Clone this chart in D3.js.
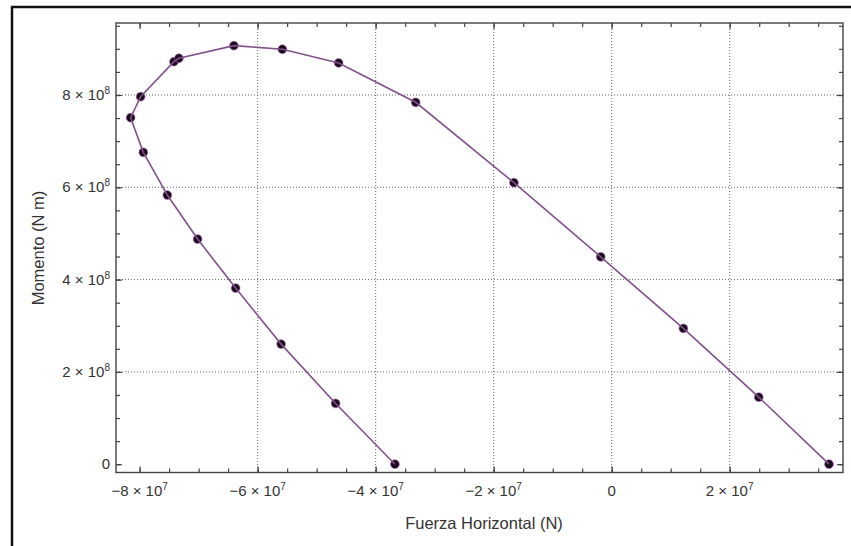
<!DOCTYPE html>
<html><head><meta charset="utf-8">
<script src="https://cdn.jsdelivr.net/npm/d3@7"></script>
<style>
html,body{margin:0;padding:0;background:#fff;}
text{font-family:"Liberation Sans",Arial,sans-serif;fill:#333;}
</style></head>
<body><svg id="c" width="851" height="546"></svg>
<script>
// Data (Fuerza Horizontal [N], Momento [N m])
const fuerza = [-36.73e6,-46.78e6,-56.02e6,-63.73e6,-70.17e6,-75.30e6,-79.37e6,-81.52e6,-79.83e6,-74.18e6,-73.34e6,-64.02e6,-55.81e6,-46.27e6,-33.22e6,-16.56e6,-1.86e6,12.15e6,24.92e6,36.83e6];
const momento = [0,131.6e6,260.2e6,381.6e6,487.8e6,583.2e6,675.8e6,750.8e6,796.3e6,872.2e6,879.6e6,906.9e6,899.1e6,869.4e6,784.2e6,609.9e6,449.4e6,294.2e6,145.3e6,0];
const xTicks = [-8e7,-6e7,-4e7,-2e7,0,2e7];
const xTickMant = ["\u22128","\u22126","\u22124","\u22122","0","2"];
const xTickExp = ["7","7","7","7","","7"];
const yTicks = [0,2e8,4e8,6e8,8e8];
const yTickMant = ["0","2","4","6","8"];
const yTickExp = ["","8","8","8","8"];
const xGrid = [-6e7,-4e7,-2e7,0,2e7];
const yGrid = [2e8,4e8,6e8,8e8];
const xLabel = "Fuerza Horizontal (N)";
const yLabel = "Momento (N m)";

const svg = d3.select("#c");
const L=116, R=843, T=23, B=472.5;
const x = d3.scaleLinear().domain([-8.4e7,3.92e7]).range([L,R]);
const y = d3.scaleLinear().domain([-1.8e7,9.56e8]).range([B,T]);

// outer frame
svg.append("path").attr("d","M12,546V7H851").attr("fill","none").attr("stroke","#111").attr("stroke-width",2.5);

// grid
const g = svg.append("g");
g.selectAll(".gx").data(xGrid).enter().append("line")
  .attr("x1",d=>x(d)).attr("x2",d=>x(d)).attr("y1",T).attr("y2",B)
  .attr("stroke","#666").attr("stroke-width",1).attr("stroke-dasharray","1,2");
g.selectAll(".gy").data(yGrid).enter().append("line")
  .attr("y1",d=>y(d)).attr("y2",d=>y(d)).attr("x1",L).attr("x2",R)
  .attr("stroke","#666").attr("stroke-width",1).attr("stroke-dasharray","1,2");

// axes with inward ticks
const minorX = d3.range(-8e7,3.92e7,5e6).filter(v=>v>=-8.4e7);
const minorY = d3.range(0,9.56e8,5e7);
function styleAxis(sel){sel.select(".domain").remove();sel.selectAll("line").attr("stroke","#444").attr("stroke-width",1.2);}
svg.append("g").attr("transform",`translate(0,${B})`).call(d3.axisBottom(x).tickValues(minorX).tickSize(-4).tickFormat("")).call(styleAxis);
svg.append("g").attr("transform",`translate(0,${T})`).call(d3.axisTop(x).tickValues(minorX).tickSize(-4).tickFormat("")).call(styleAxis);
svg.append("g").attr("transform",`translate(${L},0)`).call(d3.axisLeft(y).tickValues(minorY).tickSize(-4).tickFormat("")).call(styleAxis);
svg.append("g").attr("transform",`translate(${R},0)`).call(d3.axisRight(y).tickValues(minorY).tickSize(-4).tickFormat("")).call(styleAxis);
svg.append("g").attr("transform",`translate(0,${B})`).call(d3.axisBottom(x).tickValues(xTicks).tickSize(-6).tickFormat("")).call(styleAxis);
svg.append("g").attr("transform",`translate(0,${T})`).call(d3.axisTop(x).tickValues(xTicks).tickSize(-6).tickFormat("")).call(styleAxis);
svg.append("g").attr("transform",`translate(${L},0)`).call(d3.axisLeft(y).tickValues(yTicks).tickSize(-6).tickFormat("")).call(styleAxis);
svg.append("g").attr("transform",`translate(${R},0)`).call(d3.axisRight(y).tickValues(yTicks).tickSize(-6).tickFormat("")).call(styleAxis);

// frame
svg.append("rect").attr("x",L).attr("y",T).attr("width",R-L).attr("height",B-T)
  .attr("fill","none").attr("stroke","#444").attr("stroke-width",1.4);

// tick labels
function label(sel, mant, exp){
  if(exp===""){sel.text(mant);return;}
  sel.append("tspan").text(mant+" \u00d7 10");
  sel.append("tspan").attr("dy",-6).attr("font-size","10px").text(exp);
}
xTicks.forEach((v,i)=>{
  const t = svg.append("text").attr("x",x(v)).attr("y",B+23).attr("text-anchor","middle").attr("font-size","15px");
  label(t,xTickMant[i],xTickExp[i]);
});
yTicks.forEach((v,i)=>{
  const t = svg.append("text").attr("x",L-6).attr("y",y(v)+5).attr("text-anchor","end").attr("font-size","15px");
  label(t,yTickMant[i],yTickExp[i]);
});

// axis titles
svg.append("text").attr("x",484).attr("y",529).attr("text-anchor","middle").attr("font-size","16.5px").text(xLabel);
svg.append("text").attr("transform",`translate(44,248) rotate(-90)`).attr("text-anchor","middle").attr("font-size","16.5px").text(yLabel);

// data
const pts = fuerza.map((f,i)=>[f,momento[i]]);
svg.selectAll(".pt").data(pts).enter().append("circle")
  .attr("cx",d=>x(d[0])).attr("cy",d=>y(d[1])).attr("r",4.4)
  .attr("fill","#1a0a1c").attr("stroke","#b066b8").attr("stroke-width",0.6);
svg.append("path").datum(pts)
  .attr("d",d3.line().x(d=>x(d[0])).y(d=>y(d[1])))
  .attr("fill","none").attr("stroke","#80518a").attr("stroke-width",1.6);
</script></body></html>
